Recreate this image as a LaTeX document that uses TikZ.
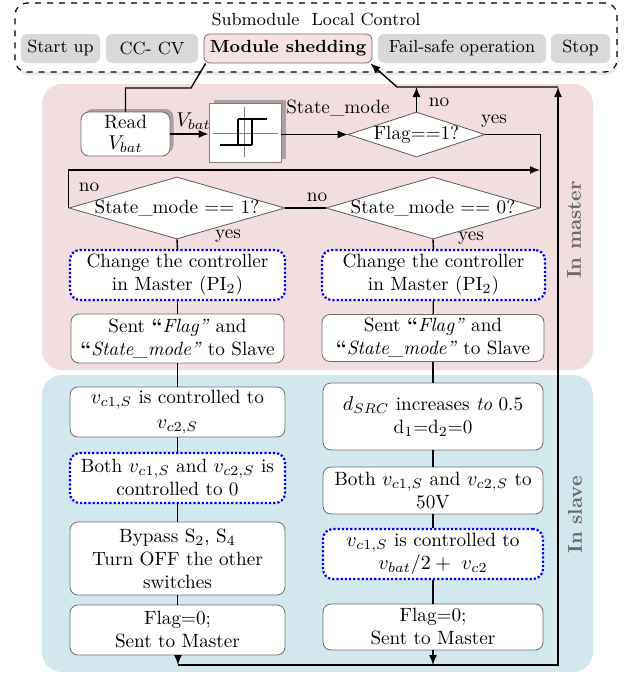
\documentclass[tikz,border=0pt]{standalone}
\usetikzlibrary{shapes.geometric,arrows.meta,shadows}
\definecolor{pinkbg}{RGB}{242,222,222}
\definecolor{bluebg}{RGB}{210,232,238}
\definecolor{btngray}{RGB}{217,217,217}
\definecolor{modpink}{RGB}{246,226,226}
\definecolor{sidegray}{RGB}{105,105,105}
\definecolor{boxborder}{RGB}{110,110,110}
\definecolor{shadowgray}{RGB}{170,162,162}
\begin{document}
\begin{tikzpicture}[x=0.5pt,y=-0.5pt,
 font=\fontsize{9.6}{11.5}\selectfont,
 conn/.style={line width=0.7pt},
 arr/.style={conn,-{Latex[length=5pt,width=4pt]}},
 stepbox/.style={draw=boxborder,rounded corners=4pt,fill=white,align=center,inner sep=1pt,minimum width=#1},
 dotbox/.style={draw=blue,densely dotted,line width=1.1pt,rounded corners=5pt,fill=white,align=center,inner sep=1pt,minimum width=#1},
 btn/.style={fill=btngray,rounded corners=3pt,minimum height=14.5pt,inner sep=1pt,font=\fontsize{8.8}{10}\selectfont,minimum width=#1},
 dec/.style={diamond,draw=gray!70!black,fill=white,inner sep=0pt,minimum width=#1},
 lbl/.style={inner sep=1pt},
 side/.style={rotate=90,font=\fontsize{10}{12}\selectfont\bfseries,text=sidegray},
 shadowbox/.style={fill=shadowgray,inner sep=0pt},
]
\useasboundingbox (0,0) rectangle (623,675);
% regions
\node[fill=pinkbg,rounded corners=10pt,minimum width=275.5pt,minimum height=143pt,inner sep=0pt] (master) at (317.5,227) {};
\node[fill=bluebg,rounded corners=10pt,minimum width=275.5pt,minimum height=148.5pt,inner sep=0pt] (slave) at (317.5,523.5) {};
\node[draw,dashed,line width=0.6pt,fill=white,rounded corners=6pt,minimum width=301pt,minimum height=34.5pt,inner sep=0pt,
      drop shadow={shadow xshift=0.5pt,shadow yshift=-1.5pt,fill=gray!35}] (outer) at (316,37.5) {};
\node[font=\fontsize{8.8}{10}\selectfont] (title) at (316,19) {Submodule\ \ Local Control};
\node[btn=39.5pt] (bstart) at (60.5,48.5) {Start up};
\node[btn=46pt] (bcc) at (152,48.5) {CC- CV};
\node[btn=84pt,fill=modpink,draw=boxborder] (bmod) at (288,48.5) {\textbf{Module shedding}};
\node[btn=84pt] (bfail) at (462,48.5) {Fail-safe operation};
\node[btn=29.5pt] (bstop) at (580.5,48.5) {Stop};
% master part
\node[shadowbox,rounded corners=4pt,minimum width=44.5pt,minimum height=22pt] (readsh) at (129,131) {};
\node[stepbox=44.5pt,minimum height=22pt,font=\fontsize{9.6}{10.5}\selectfont] (read) at (125.5,134) {Read\\$V_{bat}$};
\node[shadowbox,minimum width=36pt,minimum height=29.5pt] (hystsh) at (250,129) {};
\node[draw=gray,fill=white,minimum width=36pt,minimum height=29.5pt,inner sep=0pt] (hyst) at (245,132.5) {};
\draw[gray,line width=0.5pt] (213,133) -- (278,133) (244,107) -- (244,157);
\draw[line width=0.7pt] (220,145) -- (252,145) (238,119) -- (267,119) (238,119) -- (238,145) (252,119) -- (252,145);
\node[dec=68.5pt,minimum height=22.5pt,label=center:{Flag==1?}] (flag) at (416.5,134.5) {};
\node[dec=108pt,minimum height=31pt,label=center:{State\_mode == 1?}] (d1) at (177,208) {};
\node[dec=107pt,minimum height=31pt,label=center:{State\_mode == 0?}] (d0) at (433,208) {};
\node[dotbox=107.5pt,minimum height=25pt] (c1) at (177.5,275) {Change the controller\\in Master (PI$_2$)};
\node[dotbox=111.5pt,minimum height=25pt] (c0) at (433.5,275) {Change the controller\\in Master (PI$_2$)};
\node[stepbox=106.5pt,minimum height=24.5pt] (s1) at (177.5,338.5) {Sent \textbf{``}\textit{Flag''} and\\\textbf{``}\textit{State\_mode''} to Slave};
\node[stepbox=111pt,minimum height=23.5pt] (s0) at (433,338) {Sent \textbf{``}\textit{Flag''} and\\\textbf{``}\textit{State\_mode''} to Slave};
% slave part
\node[stepbox=107.5pt,minimum height=25pt] (v1) at (177.5,412) {$v_{c1,S}$ is controlled to\\[1pt]$v_{c2,S}$};
\node[dotbox=107.5pt,minimum height=25pt] (both1) at (177.5,478) {Both $v_{c1,S}$ and $v_{c2,S}$ is\\controlled to 0};
\node[stepbox=107.5pt,minimum height=36.5pt] (bypass) at (177.5,558.5) {Bypass S$_2$, S$_4$\\Turn OFF the other\\switches};
\node[stepbox=107.5pt,minimum height=25pt] (f1) at (177.5,630) {Flag=0;\\Sent to Master};
\node[stepbox=110pt,minimum height=33.5pt] (dsrc) at (433,416.5) {$d_{SRC}$ increases \textit{to} 0.5\\d$_1$=d$_2$=0};
\node[stepbox=110pt,minimum height=23.5pt] (both0) at (433,490.5) {Both $v_{c1,S}$ and $v_{c2,S}$ to\\50V};
\node[dotbox=110pt,minimum height=25pt] (vc0) at (433,554) {$v_{c1,S}$ is controlled to\\$v_{bat}/2+\ v_{c2}$};
\node[stepbox=110pt,minimum height=23pt] (f0) at (433,627) {Flag=0;\\Sent to Master};
% side labels
\node[side] (inmaster) at (574,230) {In master};
\node[side] (inslave) at (575,515) {In slave};
% helper coordinates
\coordinate (kL) at (191,88);
\coordinate (kR) at (397,87);
\coordinate (top) at (558,87);
\coordinate (bot) at (558,665);
\coordinate (j1) at (178,665);
\coordinate (j0) at (433,665);
\coordinate (kA) at (540,170);
% connectors
\draw[conn] (read.north) |- (kL) -- ([xshift=1pt]bmod.south west);
\draw[arr] (read.east) -- (read.east -| hyst.west) node[midway,above=1pt,lbl,xshift=2pt] (vlab) {$V_{bat}$};
\draw[arr] (hyst.east |- flag.west) -- (flag.west);
\node[lbl] (smlab) at (338,108) {State\_mode};
\draw[arr] (flag.north) -- (flag.north |- top);
\node[lbl] (nolab1) at (439,102) {no};
\draw[arr] (j1) -- (bot) -- (top);
\draw[arr] (top) -- (kR) -- ([xshift=-1pt]bmod.south east);
\draw[conn] (flag.east) -- (flag.east -| d0.east) -- (d0.east);
\node[lbl] (yeslab1) at (494,121) {yes};
\draw[arr] (d1.west) -- (d1.west |- kA) -- (kA);
\node[lbl] (nolab2) at (89,187) {no};
\draw[conn] (d0.west) -- (d1.east);
\node[lbl] (nolab3) at (317,197) {no};
\draw[conn] (d1.south) -- (c1.north);
\node[lbl] (yeslab2) at (228,236) {yes};
\draw[conn] (d0.south) -- (c0.north);
\node[lbl] (yeslab3) at (471,238) {yes};
\draw[conn] (c1) -- (s1);
\draw[conn] (c0) -- (s0);
\draw[conn] (s1) -- (v1);
\draw[conn] (s0) -- (dsrc);
\draw[conn] (v1) -- (both1);
\draw[conn] (both1) -- (bypass);
\draw[conn] (bypass) -- (f1);
\draw[conn] (dsrc) -- (both0);
\draw[conn] (both0) -- (vc0);
\draw[conn] (vc0) -- (f0);
\draw[arr] (f1.south -| j1) -- (j1);
\draw[arr] (f0.south) -- (j0);
\end{tikzpicture}
\end{document}
